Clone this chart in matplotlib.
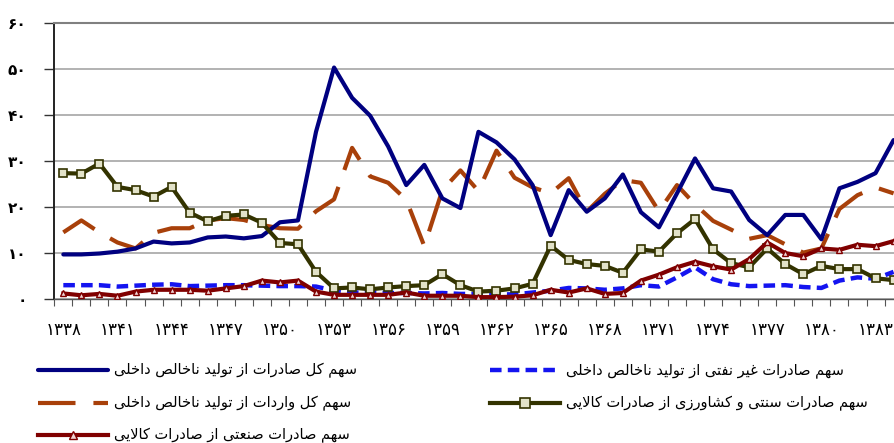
import matplotlib
matplotlib.use("Agg")
import matplotlib.pyplot as plt
from matplotlib.lines import Line2D
import numpy as np

# --- داده‌ها (درصد) ---
years = list(range(1338, 1385))

total_exports = [9.6, 9.6, 9.8, 10.2, 10.9, 12.4, 12.0, 12.2, 13.3, 13.5, 13.1, 13.6,
                 16.6, 17.0, 36.3, 50.3, 43.7, 39.8, 33.1, 24.7, 29.1, 21.8, 19.7, 36.3,
                 34.0, 30.3, 24.7, 13.8, 23.6, 18.9, 21.8, 27.0, 18.8, 15.5, 22.9, 30.5,
                 24.0, 23.3, 17.1, 13.8, 18.2, 18.2, 12.9, 24.0, 25.4, 27.3, 34.5]
nonoil_exports = [2.9, 2.9, 2.9, 2.6, 2.8, 3.0, 3.1, 2.7, 2.8, 2.9, 2.9, 2.8,
                  2.7, 2.7, 2.6, 1.7, 1.3, 1.3, 1.2, 1.2, 1.1, 1.2, 1.0, 1.0,
                  0.9, 0.9, 1.3, 1.7, 2.3, 2.2, 1.9, 2.2, 2.9, 2.6, 4.6, 6.8,
                  4.2, 3.1, 2.7, 2.8, 2.9, 2.5, 2.3, 3.9, 4.6, 4.3, 5.8]
total_imports = [14.4, 17.0, 14.4, 12.2, 10.9, 14.3, 15.3, 15.3, 17.0, 17.5, 17.1, 16.0,
                 15.3, 15.2, 19.0, 21.6, 32.8, 26.6, 25.2, 21.5, 11.4, 23.6, 27.9, 23.4,
                 32.2, 26.3, 24.2, 22.9, 26.2, 18.9, 22.8, 25.8, 25.2, 19.0, 24.7, 20.5,
                 16.9, 15.0, 13.0, 13.8, 11.8, 10.0, 10.9, 19.5, 22.5, 24.2, 22.9]
traditional = [27.3, 27.2, 29.4, 24.3, 23.6, 22.2, 24.3, 18.7, 16.8, 18.0, 18.3, 16.5,
               12.1, 11.8, 5.8, 2.2, 2.4, 2.0, 2.4, 2.7, 2.9, 5.3, 2.9, 1.5,
               1.7, 2.2, 3.2, 11.5, 8.4, 7.5, 7.1, 5.6, 10.7, 10.2, 14.2, 17.3,
               10.7, 7.7, 6.8, 10.9, 7.5, 5.3, 7.1, 6.4, 6.4, 4.4, 4.0]
industrial = [1.1, 0.7, 1.0, 0.6, 1.5, 1.9, 1.9, 1.9, 1.7, 2.2, 2.7, 3.9,
              3.5, 3.9, 1.5, 0.8, 0.8, 0.8, 0.8, 1.3, 0.6, 0.6, 0.6, 0.3,
              0.3, 0.4, 0.7, 1.9, 1.3, 2.2, 1.0, 1.2, 3.9, 5.2, 6.8, 8.0,
              7.0, 6.3, 8.6, 12.2, 9.9, 9.2, 10.9, 10.6, 11.7, 11.4, 12.5]

labels = ["سهم کل صادرات از تولید ناخالص داخلی",
          "سهم صادرات غیر نفتی از تولید ناخالص داخلی",
          "سهم کل واردات از تولید ناخالص داخلی",
          "سهم صادرات سنتی و کشاورزی از صادرات کالایی",
          "سهم صادرات صنعتی از صادرات کالایی"]

FA_DIGITS = "۰۱۲۳۴۵۶۷۸۹"

# شکل‌های نمایشی حروف (تنها، پایانی، آغازی، میانی)
FORMS = {
    "\u0627": ("\uFE8D", "\uFE8E", None, None),
    "\u062A": ("\uFE95", "\uFE96", "\uFE97", "\uFE98"),
    "\u062E": ("\uFEA5", "\uFEA6", "\uFEA7", "\uFEA8"),
    "\u062F": ("\uFEA9", "\uFEAA", None, None),
    "\u0631": ("\uFEAD", "\uFEAE", None, None),
    "\u0632": ("\uFEAF", "\uFEB0", None, None),
    "\u0633": ("\uFEB1", "\uFEB2", "\uFEB3", "\uFEB4"),
    "\u0634": ("\uFEB5", "\uFEB6", "\uFEB7", "\uFEB8"),
    "\u0635": ("\uFEB9", "\uFEBA", "\uFEBB", "\uFEBC"),
    "\u0639": ("\uFEC9", "\uFECA", "\uFECB", "\uFECC"),
    "\u063A": ("\uFECD", "\uFECE", "\uFECF", "\uFED0"),
    "\u0641": ("\uFED1", "\uFED2", "\uFED3", "\uFED4"),
    "\u0644": ("\uFEDD", "\uFEDE", "\uFEDF", "\uFEE0"),
    "\u0645": ("\uFEE1", "\uFEE2", "\uFEE3", "\uFEE4"),
    "\u0646": ("\uFEE5", "\uFEE6", "\uFEE7", "\uFEE8"),
    "\u0647": ("\uFEE9", "\uFEEA", "\uFEEB", "\uFEEC"),
    "\u0648": ("\uFEED", "\uFEEE", None, None),
    "\u06CC": ("\uFBFC", "\uFBFD", "\uFBFE", "\uFBFF"),
    "\u06A9": ("\uFB8E", "\uFB8F", "\uFB90", "\uFB91"),
}


def joins_next(c):
    return c in FORMS and FORMS[c][2] is not None


def shape(s):
    s = s.replace("\u064A", "\u06CC").replace("\u0643", "\u06A9")
    out = []
    k = 0
    n = len(s)
    while k < n:
        c = s[k]
        if c not in FORMS:
            out.append(c)
            k += 1
            continue
        link_prev = k > 0 and joins_next(s[k - 1])
        if c == "\u0644" and k + 1 < n and s[k + 1] == "\u0627":
            out.append("\uFEFC" if link_prev else "\uFEFB")
            k += 2
            continue
        link_next = joins_next(c) and k + 1 < n and s[k + 1] in FORMS
        f = FORMS[c]
        if link_prev and link_next:
            g = f[3]
        elif link_prev:
            g = f[1]
        elif link_next:
            g = f[2]
        else:
            g = f[0]
        out.append(g)
        k += 1
    return "".join(reversed(out))


def fa(n):
    return "".join(FA_DIGITS[int(d)] for d in str(n))


plt.rcParams["font.family"] = ["DejaVu Sans"]

fig = plt.figure(figsize=(8.94, 4.43), dpi=100)
ax = fig.add_axes([54.3 / 894, 1 - 298.5 / 443, (902.6 - 54.3) / 894, (298.5 - 23) / 443])

styles = [
    dict(color="#000080", lw=3.0, solid_capstyle="round", solid_joinstyle="round"),
    dict(color="#1414F0", lw=3.2, dashes=(2.6, 1.4)),
    dict(color="#A8400A", lw=3.0, dashes=(9, 4.3)),
    dict(color="#333300", lw=3.0, marker="s", ms=5.5, mfc="#E2E2C8", mec="#333300", mew=1.2),
    dict(color="#800000", lw=3.0, marker="^", ms=4.5, mfc="#F0D4D4", mec="#800000", mew=1.0),
]
series = [total_exports, nonoil_exports, total_imports, traditional, industrial]
zorders = [3, 2, 2, 4, 5]

for vals, st, z in zip(series, styles, zorders):
    ax.plot(years, vals, zorder=z, **st)

ax.set_xlim(1337.5, 1384.5)
ax.set_ylim(0, 60)

ax.set_yticks(np.arange(0, 61, 10))
ax.set_yticklabels([fa(v) for v in range(0, 61, 10)], fontsize=11, fontweight="bold")
ax.tick_params(axis="y", length=7, width=1, pad=13, color="#333333")

tick_years = years[::3][:16]
ax.set_xticks(tick_years)
ax.set_xticklabels([fa(y) for y in tick_years], fontsize=12)
ax.set_xticks(np.arange(1337.5, 1385, 1), minor=True)
ax.tick_params(axis="x", which="major", length=0, pad=16)
ax.tick_params(axis="x", which="minor", length=5, width=0.8, color="#555555")

ax.yaxis.grid(True, color="#A6A6A6", lw=1.2)
ax.set_axisbelow(True)
ax.spines["right"].set_visible(False)
ax.spines["top"].set_color("#808080")
ax.spines["top"].set_linewidth(1.5)
ax.spines["left"].set_color("#222222")
ax.spines["left"].set_linewidth(1.4)
ax.spines["bottom"].set_color("#555555")
ax.spines["bottom"].set_linewidth(1.0)

# راهنما
entries = [(38, 370, 0), (490, 370, 1), (38, 403, 2), (490, 403, 3), (38, 435, 4)]
for x0, y0, idx in entries:
    st = dict(styles[idx])
    mk = st.pop("marker", None)
    ms = st.pop("ms", None)
    mfc = st.pop("mfc", None)
    mec = st.pop("mec", None)
    mew = st.pop("mew", None)
    fy = 1 - y0 / 443
    fig.add_artist(Line2D([x0 / 894, (x0 + 70) / 894], [fy, fy], transform=fig.transFigure, **st))
    if mk:
        fig.add_artist(Line2D([(x0 + 35) / 894], [fy], transform=fig.transFigure, ls="none",
                              marker=mk, ms=ms + 1, mfc=mfc, mec=mec, mew=mew))
    fig.text((x0 + 76) / 894, fy, shape(labels[idx]), fontsize=10.5, ha="left", va="center")

fig.savefig("out.png", dpi=100)
